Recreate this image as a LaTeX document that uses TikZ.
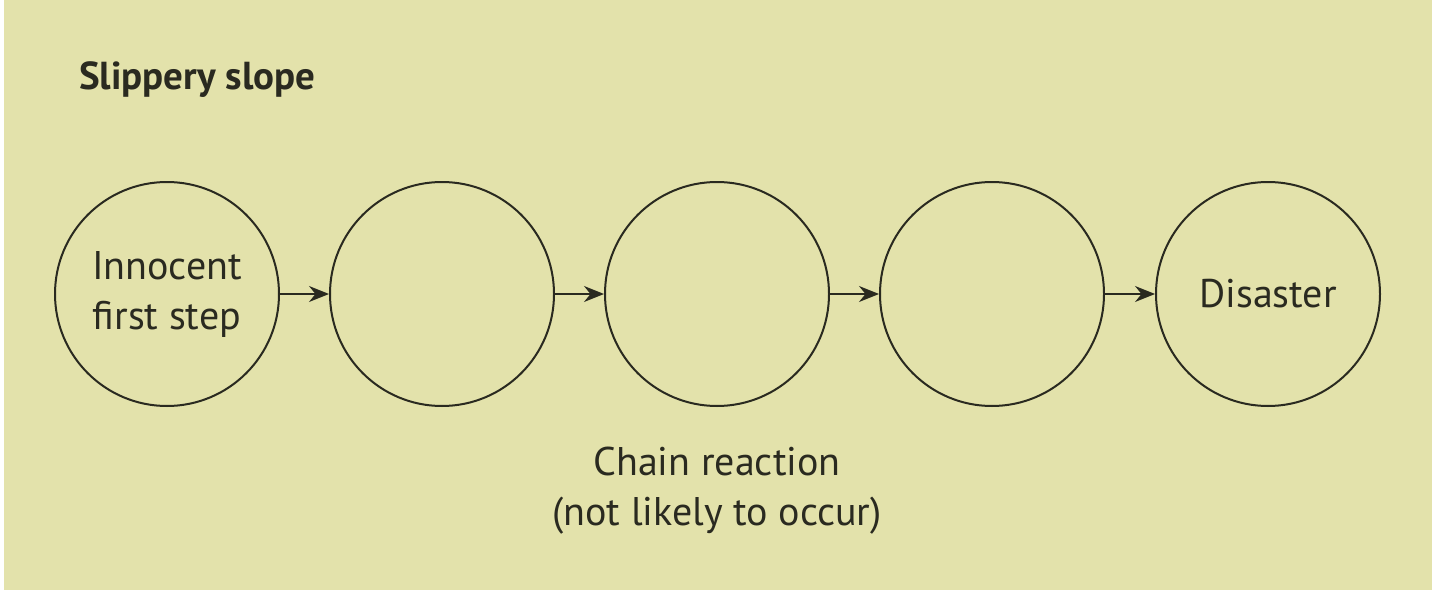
\documentclass[tikz,border=0pt]{standalone}
\usepackage{fontspec}
\setmainfont{PT Sans}
\usetikzlibrary{arrows.meta}
\definecolor{bg}{HTML}{E3E2AB}
\definecolor{ink}{HTML}{2A2A20}
\begin{document}
\begin{tikzpicture}[x=0.5pt,y=-0.5pt,
  circ/.style={circle,draw=ink,line width=1pt,minimum size=112pt,inner sep=0pt,align=center,font=\fontsize{20}{25}\selectfont,text=ink},
  conn/.style={draw=ink,line width=1pt,-{Stealth[length=10pt,width=8pt]}}]
\useasboundingbox (0,0) rectangle (1440,599);
\fill[white] (0,0) rectangle (1440,599);
\fill[bg] (4,0) rectangle (1432,590);
\node[anchor=west,font=\bfseries\fontsize{19.5}{22}\selectfont,text=ink] (title) at (72,80) {Slippery slope};
\node[circ] (c1) at (167,294) {Innocent\\first step};
\node[circ] (c2) at (442,294) {};
\node[circ] (c3) at (717,294) {};
\node[circ] (c4) at (992,294) {};
\node[circ] (c5) at (1268,294) {Disaster};
\draw[conn] (c1) -- (c2);
\draw[conn] (c2) -- (c3);
\draw[conn] (c3) -- (c4);
\draw[conn] (c4) -- (c5);
\node[align=center,font=\fontsize{20}{25}\selectfont,text=ink] (cap) at (717,491) {Chain reaction\\(not likely to occur)};
\end{tikzpicture}
\end{document}
